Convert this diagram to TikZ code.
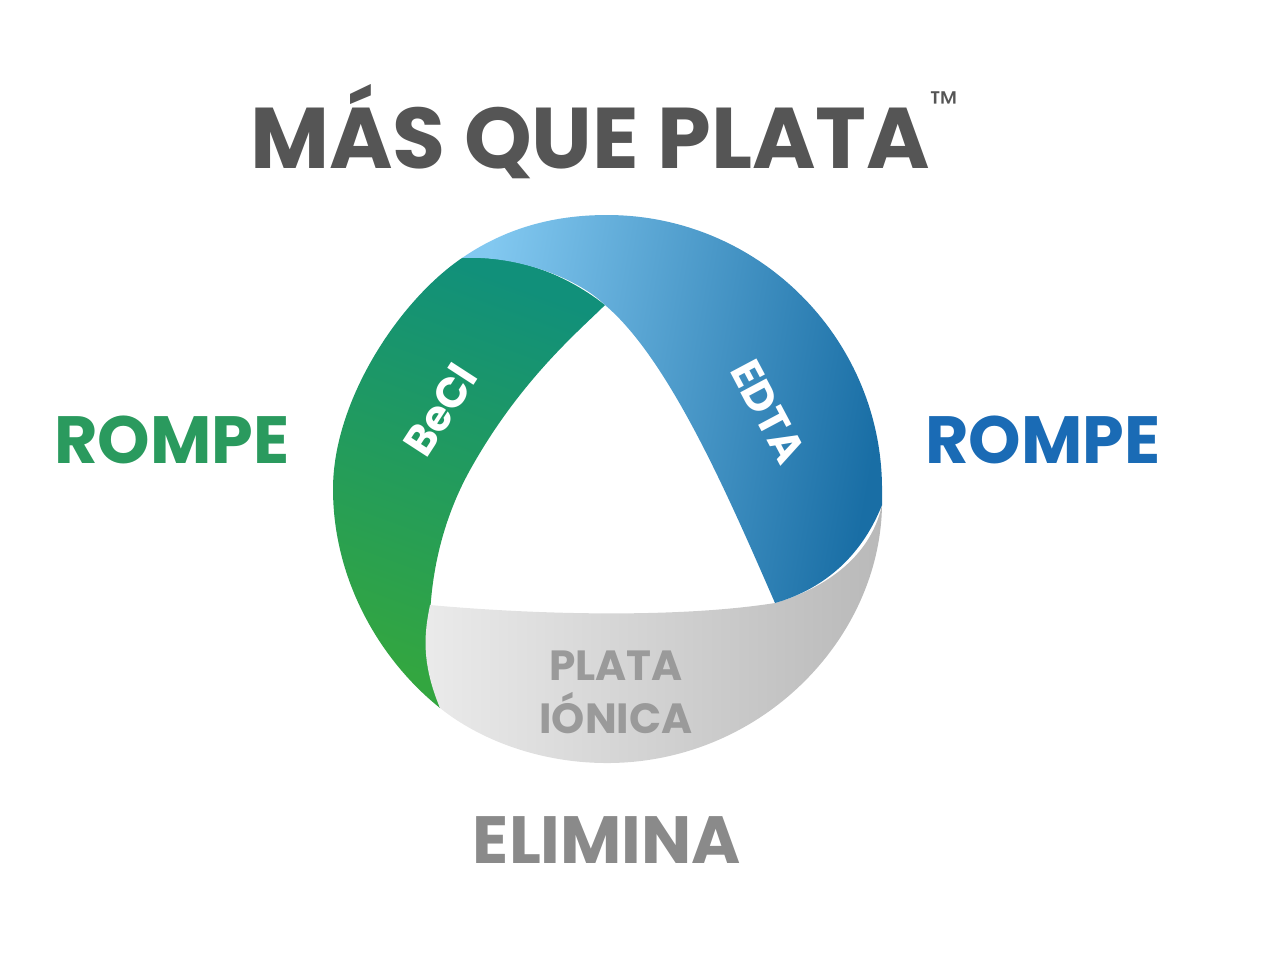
\documentclass[tikz,border=0pt]{standalone}
\usepackage{fontspec}
\setmainfont{Poppins}
\usetikzlibrary{positioning}
\tikzset{
	x=0.01cm, y=-0.01cm, % pixel units, y grows downwards
	big label/.style={font=\fontsize{19}{22}\selectfont\bfseries},
	ring label/.style={font=\fontsize{12}{13}\selectfont\bfseries, text=white, inner sep=0pt},
}
\definecolor{titlegray}{HTML}{555555}
\definecolor{rompegreen}{HTML}{2A9A5E}
\definecolor{rompeblue}{HTML}{1A6BB5}
\definecolor{elimgray}{HTML}{8A8A8A}
\definecolor{platagray}{HTML}{9A9A9A}

\begin{document}
\begin{tikzpicture}
	\useasboundingbox (0,0) rectangle (1280,978);
	% corners of the inner triangle and of the bands
	\coordinate (T) at (605,305);
	\coordinate (L) at (430,605);
	\coordinate (R) at (775,603);
	\coordinate (GL) at (440,708);
	\coordinate (GT) at (462,258);
	\coordinate (BR) at (882,505);
	%% green band (BeCl)
	\shade[bottom color={rgb,255:red,51;green,166;blue,64}, top color={rgb,255:red,17;green,144;blue,122}, shading angle=-20]
		(GT) .. controls (400,300) and (333,400) .. (333,489)
		.. controls (333,580) and (380,660) .. (GL)
		.. controls (425,660) and (420,560) .. (470,470)
		.. controls (520,380) and (580,330) .. (T)
		.. controls (560,270) and (510,255) .. cycle;
	%% grey band (plata ionica)
	\shade[left color={rgb,255:red,235;green,235;blue,235}, right color={rgb,255:red,185;green,185;blue,185}]
		(BR) .. controls (880,640) and (760,763) .. (607,763)
		.. controls (540,763) and (480,740) .. (GL)
		.. controls (420,660) and (425,630) .. (L)
		.. controls (540,615) and (680,618) .. (R)
		.. controls (820,590) and (870,560) .. cycle;
	%% blue band (EDTA)
	\shade[left color={rgb,255:red,130;green,200;blue,240}, right color={rgb,255:red,25;green,110;blue,165}, shading angle=80]
		(GT) .. controls (510,225) and (560,215) .. (607,215)
		.. controls (760,215) and (882,340) .. (882,489)
		-- (BR)
		.. controls (860,560) and (820,590) .. (R)
		.. controls (730,500) and (670,360) .. (T)
		.. controls (580,280) and (520,255) .. cycle;
	% texts
	\node[font=\fontsize{24.5}{28}\selectfont\bfseries, text=titlegray] (title) at (604,132) {MÁS QUE PLATA\raisebox{1.1ex}{\fontsize{10}{10}\selectfont\mdseries ™}};
	\node[big label, text=rompegreen] (rompeL) at (172,440) {ROMPE};
	\node[big label, text=rompeblue] (rompeR) at (1043,440) {ROMPE};
	\node[big label, text=elimgray] (elimina) at (607,840) {ELIMINA};
	\node[font=\fontsize{12}{15}\selectfont\bfseries, text=platagray, align=center] (plata) at (616,692) {PLATA\\IÓNICA};
	\node[ring label, rotate=57] (becl) at (440,410) {BeCl};
	\node[ring label, rotate=-62] (edta) at (768,412) {EDTA};
\end{tikzpicture}
\end{document}
